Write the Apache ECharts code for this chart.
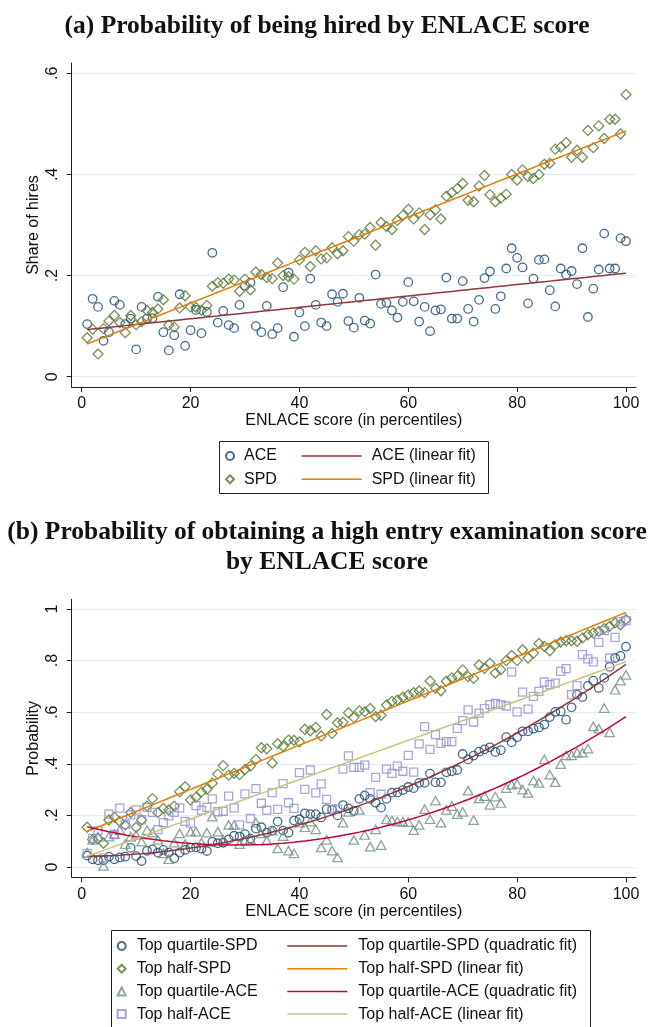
<!DOCTYPE html>
<html>
<head>
<meta charset="utf-8">
<script src="https://cdn.jsdelivr.net/npm/echarts@6/dist/echarts.min.js"></script>
<style>
  html, body { margin: 0; padding: 0; background: #fff; }
  #chart { width: 654px; height: 1027px; }
</style>
</head>
<body>
<div id="chart"></div>
<script>
// ENLACE percentile (x for every series)
const pct = [
  1, 2, 3, 4, 5, 6, 7, 8, 9, 10, 11, 12, 13, 14, 15, 16, 17, 18, 19, 20,
  21, 22, 23, 24, 25, 26, 27, 28, 29, 30, 31, 32, 33, 34, 35, 36, 37, 38, 39, 40,
  41, 42, 43, 44, 45, 46, 47, 48, 49, 50, 51, 52, 53, 54, 55, 56, 57, 58, 59, 60,
  61, 62, 63, 64, 65, 66, 67, 68, 69, 70, 71, 72, 73, 74, 75, 76, 77, 78, 79, 80,
  81, 82, 83, 84, 85, 86, 87, 88, 89, 90, 91, 92, 93, 94, 95, 96, 97, 98, 99, 100
]

// (a) share of hires
const hiredACE = [
  .104, .154, .138, .071, .088, .150, .142, .104, .115, .054,
  .138, .115, .116, .158, .088, .052, .082, .163, .061, .092,
  .132, .086, .128, .245, .107, .130, .102, .096, .142, .180,
  .186, .100, .088, .140, .084, .096, .177, .206, .079, .127,
  .100, .194, .142, .107, .100, .163, .148, .164, .110, .097,
  .156, .111, .105, .202, .144, .146, .131, .117, .148, .187,
  .149, .109, .138, .090, .131, .133, .196, .115, .115, .189,
  .134, .109, .152, .195, .208, .134, .159, .214, .254, .235,
  .216, .145, .194, .231, .232, .171, .139, .214, .202, .209,
  .183, .254, .118, .174, .212, .283, .214, .214, .274, .268
]
const hiredSPD = [
  .077, .094, .045, .095, .110, .121, .107, .087, .121, .103,
  .109, .131, .127, .134, .152, .102, .098, .136, .160, .138,
  .137, .131, .141, .179, .186, .185, .193, .191, .169, .193,
  .172, .207, .202, .196, .194, .225, .200, .198, .193, .231,
  .246, .218, .249, .233, .235, .255, .243, .249, .277, .268,
  .281, .282, .295, .260, .305, .297, .291, .309, .319, .331,
  .312, .324, .291, .320, .330, .312, .357, .364, .372, .382,
  .349, .346, .377, .398, .360, .346, .353, .361, .400, .389,
  .409, .396, .392, .400, .420, .422, .450, .454, .463, .434,
  .448, .434, .487, .453, .496, .471, .509, .509, .480, .558
]

// (b) probability of a high entry examination score
const q4SPD = [
  .044, .030, .026, .026, .040, .030, .037, .040, .074, .042,
  .023, .063, .068, .056, .066, .056, .034, .056, .066, .075,
  .076, .071, .062, .097, .092, .094, .107, .121, .118, .127,
  .110, .149, .154, .133, .141, .176, .141, .133, .180, .185,
  .208, .205, .205, .192, .224, .221, .200, .240, .227, .217,
  .264, .277, .264, .249, .230, .264, .288, .289, .298, .310,
  .306, .326, .326, .362, .328, .328, .367, .371, .376, .438,
  .417, .432, .447, .456, .464, .446, .453, .503, .483, .503,
  .526, .526, .536, .541, .552, .581, .601, .603, .571, .619,
  .668, .659, .702, .722, .694, .733, .776, .810, .818, .854
]
const halfSPD = [
  .154, .107, .110, .092, .182, .193, .176, .163, .211, .154,
  .182, .236, .265, .211, .227, .221, .236, .292, .311, .260,
  .270, .291, .301, .325, .360, .393, .356, .363, .358, .378,
  .391, .417, .462, .458, .403, .478, .468, .492, .491, .485,
  .534, .528, .541, .508, .591, .518, .559, .561, .598, .579,
  .605, .602, .614, .583, .588, .628, .642, .647, .658, .667,
  .676, .682, .676, .721, .693, .683, .720, .733, .740, .764,
  .738, .731, .783, .770, .790, .752, .765, .800, .820, .800,
  .842, .810, .829, .866, .855, .838, .862, .872, .877, .877,
  .875, .888, .900, .907, .913, .924, .933, .946, .939, .959
]
const q4ACE = [
  .056, .105, .118, .004, .118, .128, .143, .089, .118, .124,
  .098, .143, .133, .105, .053, .030, .094, .130, .089, .137,
  .137, .094, .133, .195, .137, .105, .163, .163, .089, .105,
  .107, .172, .130, .102, .141, .072, .120, .063, .053, .172,
  .154, .176, .146, .076, .105, .063, .037, .172, .214, .105,
  .221, .124, .079, .146, .085, .185, .180, .176, .176, .174,
  .143, .163, .224, .185, .257, .172, .221, .236, .205, .214,
  .296, .182, .266, .275, .241, .273, .248, .306, .319, .322,
  .300, .287, .335, .326, .417, .358, .329, .399, .433, .433,
  .443, .443, .459, .545, .536, .616, .522, .687, .722, .745
]
const halfACE = [
  .053, .111, .141, .035, .205, .126, .228, .165, .202, .221,
  .183, .231, .212, .145, .172, .198, .212, .229, .177, .170,
  .238, .220, .231, .264, .214, .216, .275, .229, .163, .283,
  .188, .304, .247, .220, .288, .223, .323, .249, .227, .366,
  .301, .376, .287, .322, .262, .224, .224, .379, .431, .386,
  .386, .395, .288, .347, .282, .379, .363, .391, .371, .433,
  .368, .477, .544, .456, .513, .479, .486, .486, .537, .567,
  .609, .562, .596, .614, .629, .634, .629, .624, .756, .601,
  .678, .612, .661, .681, .717, .707, .713, .758, .769, .668,
  .703, .823, .807, .795, .871, .916, .810, .890, .950, .955
]

// axis ticks
const xTicks = [0, 20, 40, 60, 80, 100]
const yTicksA = [0, 0.2, 0.4, 0.6]
const yLabelsA = ['0', '.2', '.4', '.6']
const yTicksB = [0, 0.2, 0.4, 0.6, 0.8, 1]
const yLabelsB = ['0', '.2', '.4', '.6', '.8', '1']

// Stata s2color palette
const navy = '#1a476f'
const maroon = '#90353b'
const forest = '#55752f'
const dkorange = '#e37e00'
const teal = '#6e8e84'
const cranberry = '#c10534'
const lavender = '#938dd2'
const khaki = '#cac27e'

const sans = 'Liberation Sans, Arial, sans-serif'
const serif = 'Liberation Serif, Times New Roman, serif'
const ink = '#111'
const axisColor = '#222'
const gridColor = '#e3ecef'

// least squares fits, like Stata's lfit / qfit
function linFit(xs, ys) {
  const n = xs.length
  const mx = xs.reduce((a, b) => a + b, 0) / n
  const my = ys.reduce((a, b) => a + b, 0) / n
  let sxy = 0, sxx = 0
  xs.forEach((x, i) => { sxy += (x - mx) * (ys[i] - my); sxx += (x - mx) * (x - mx) })
  const b = sxy / sxx
  const a = my - b * mx
  return x => a + b * x
}

function quadFit(xs, ys) {
  const s = [0, 0, 0, 0, 0]
  const t = [0, 0, 0]
  xs.forEach((x, i) => {
    for (let k = 0; k < 5; k++) s[k] += Math.pow(x, k)
    for (let k = 0; k < 3; k++) t[k] += ys[i] * Math.pow(x, k)
  })
  const m = [
    [s[0], s[1], s[2], t[0]],
    [s[1], s[2], s[3], t[1]],
    [s[2], s[3], s[4], t[2]]
  ]
  for (let c = 0; c < 3; c++) {
    for (let r = c + 1; r < 3; r++) {
      const f = m[r][c] / m[c][c]
      for (let k = c; k < 4; k++) m[r][k] -= f * m[c][k]
    }
  }
  const co = [0, 0, 0]
  for (let r = 2; r >= 0; r--) {
    let v = m[r][3]
    for (let k = r + 1; k < 3; k++) v -= m[r][k] * co[k]
    co[r] = v / m[r][r]
  }
  return x => co[0] + co[1] * x + co[2] * x * x
}

const pairs = ys => pct.map((x, i) => [x, ys[i]])
const fitLine = f => pct.map(x => [x, f(x)])

function tickLabel(ticks, labels) {
  return v => {
    const i = ticks.findIndex(t => Math.abs(t - v) < 1e-9)
    return i < 0 ? '' : labels[i]
  }
}

function xAxisFor(gridIndex) {
  return {
    type: 'value',
    gridIndex,
    min: -1.84,
    max: 101.84,
    name: 'ENLACE score (in percentiles)',
    nameLocation: 'middle',
    nameGap: 26,
    nameMoveOverlap: false,
    nameTextStyle: { fontFamily: sans, fontSize: 16, color: ink },
    axisLine: { show: true, onZero: false, lineStyle: { color: axisColor, width: 1 } },
    axisTick: { show: true, length: 5, customValues: xTicks, lineStyle: { color: axisColor } },
    axisLabel: { customValues: xTicks, margin: 9, fontFamily: sans, fontSize: 16, color: ink },
    splitLine: { show: false }
  }
}

function yAxisFor(gridIndex, min, max, ticks, labels, name) {
  return {
    type: 'value',
    gridIndex,
    min,
    max,
    name,
    nameLocation: 'middle',
    nameRotate: 90,
    nameGap: 30,
    nameMoveOverlap: false,
    nameTextStyle: { fontFamily: sans, fontSize: 16, color: ink },
    axisLine: { show: true, onZero: false, lineStyle: { color: axisColor, width: 1 } },
    axisTick: { show: true, length: 5, customValues: ticks, lineStyle: { color: axisColor } },
    axisLabel: {
      customValues: ticks,
      rotate: 90,
      margin: 11,
      fontFamily: sans,
      fontSize: 16,
      color: ink,
      formatter: tickLabel(ticks, labels)
    },
    splitLine: { show: true, lineStyle: { color: gridColor, width: 1 } }
  }
}

function dots(name, ys, symbol, size, color, axis) {
  return {
    name,
    type: 'scatter',
    xAxisIndex: axis,
    yAxisIndex: axis,
    data: pairs(ys),
    symbol,
    symbolSize: size,
    symbolKeepAspect: true,
    itemStyle: { color: 'rgba(0,0,0,0)', borderColor: color, borderWidth: 1.3 },
    emphasis: { disabled: true },
    z: 2
  }
}

function fit(name, f, color, axis) {
  return {
    name,
    type: 'line',
    xAxisIndex: axis,
    yAxisIndex: axis,
    data: fitLine(f),
    symbol: 'none',
    showSymbol: false,
    lineStyle: { color, width: 1.5 },
    itemStyle: { color },
    emphasis: { disabled: true },
    z: 3
  }
}

const legendText = { fontFamily: sans, fontSize: 16, color: ink }

// markers column: square icon box, text pushed right with padding
function markerLegend(names, left, top, gap, pad) {
  return {
    data: names, orient: 'vertical', left, top,
    itemWidth: 8, itemHeight: 8, itemGap: gap, padding: 0,
    symbolKeepAspect: true, selectedMode: false,
    textStyle: Object.assign({ padding: [0, 0, 0, pad] }, legendText)
  }
}

// fit column: a plain thin bar as icon
function lineLegend(names, left, top, gap, pad) {
  return {
    data: names.map(n => ({ name: n, icon: 'rect' })), orient: 'vertical', left, top,
    itemWidth: 60, itemHeight: 1.5, itemGap: gap, padding: 0,
    selectedMode: false,
    textStyle: Object.assign({ padding: [0, 0, 0, pad] }, legendText)
  }
}

const chart = echarts.init(document.getElementById('chart'), null, { renderer: 'canvas' })

chart.setOption({
  animation: false,
  backgroundColor: '#fff',
  title: [
    {
      text: '(a) Probability of being hired by ENLACE score',
      left: 'center',
      top: 13,
      padding: 0,
      textStyle: { fontFamily: serif, fontWeight: 'bold', fontSize: 25.5, lineHeight: 26, color: ink }
    },
    {
      text: '(b) Probability of obtaining a high entry examination score\nby ENLACE score',
      left: 'center',
      top: 517,
      padding: 0,
      textStyle: { fontFamily: serif, fontWeight: 'bold', fontSize: 25.5, lineHeight: 30.5, color: ink }
    }
  ],
  grid: [
    { left: 71.7, top: 63, width: 564.3, height: 324, outerBoundsMode: 'none' },
    { left: 71.7, top: 599.3, width: 564.3, height: 278, outerBoundsMode: 'none' }
  ],
  xAxis: [xAxisFor(0), xAxisFor(1)],
  yAxis: [
    yAxisFor(0, -0.0204, 0.6204, yTicksA, yLabelsA, 'Share of hires'),
    yAxisFor(1, -0.04, 1.0376, yTicksB, yLabelsB, 'Probability')
  ],
  legend: [
    markerLegend(['ACE', 'SPD'], 225, 448, 7.3, 5),
    lineLegend(['ACE (linear fit)', 'SPD (linear fit)'], 301.7, 448, 7.3, 5),
    markerLegend(['Top quartile-SPD', 'Top half-SPD', 'Top quartile-ACE', 'Top half-ACE'], 116.7, 938, 6.7, 6),
    lineLegend([
      'Top quartile-SPD (quadratic fit)', 'Top half-SPD (linear fit)',
      'Top quartile-ACE (quadratic fit)', 'Top half-ACE (linear fit)'
    ], 287.3, 938, 6.7, 6)
  ],
  graphic: [
    {
      type: 'rect', silent: true, z: -1,
      shape: { x: 219.5, y: 441.5, width: 269, height: 52 },
      style: { fill: 'none', stroke: axisColor, lineWidth: 1 }
    },
    {
      type: 'rect', silent: true, z: -1,
      shape: { x: 111.5, y: 930.5, width: 479, height: 97 },
      style: { fill: 'none', stroke: axisColor, lineWidth: 1 }
    }
  ],
  series: [
    dots('ACE', hiredACE, 'circle', 8.5, navy, 0),
    dots('SPD', hiredSPD, 'diamond', [10, 10], forest, 0),
    fit('ACE (linear fit)', linFit(pct, hiredACE), maroon, 0),
    fit('SPD (linear fit)', linFit(pct, hiredSPD), dkorange, 0),

    dots('Top quartile-SPD', q4SPD, 'circle', 8.5, navy, 1),
    dots('Top half-SPD', halfSPD, 'diamond', [10, 10], forest, 1),
    dots('Top quartile-ACE', q4ACE, 'triangle', [9.5, 8.5], teal, 1),
    dots('Top half-ACE', halfACE, 'rect', 8, lavender, 1),
    fit('Top quartile-SPD (quadratic fit)', quadFit(pct, q4SPD), maroon, 1),
    fit('Top half-SPD (linear fit)', linFit(pct, halfSPD), dkorange, 1),
    fit('Top quartile-ACE (quadratic fit)', quadFit(pct, q4ACE), cranberry, 1),
    fit('Top half-ACE (linear fit)', linFit(pct, halfACE), khaki, 1)
  ]
})
</script>
</body>
</html>
